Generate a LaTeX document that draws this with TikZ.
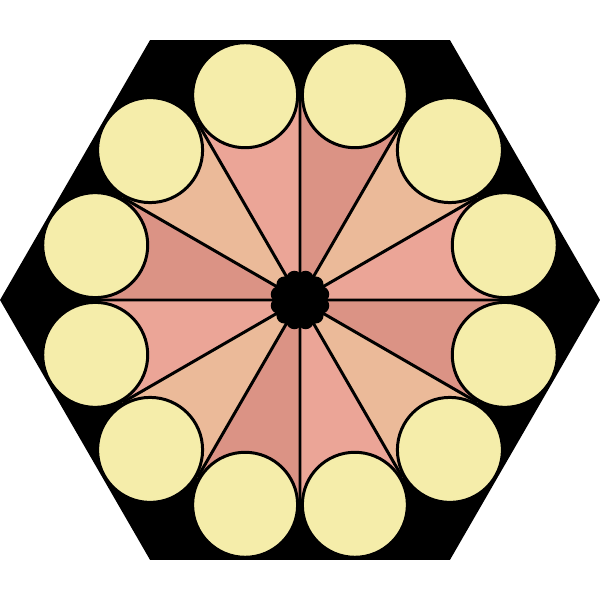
\documentclass[tikz,border=0pt]{standalone}
\usepackage{xcolor}
\usepackage{tikz}
\definecolor{discyellow}{HTML}{F5EDAA}
\definecolor{wedgepink}{HTML}{EBA597}
\definecolor{wedgetan}{HTML}{EBBA99}
\definecolor{wedgedark}{HTML}{DB9385}

\begin{document}
\begin{tikzpicture}[scale=0.02]
        % Rosette of 12 discs inside a black hexagon
        \def\hexradius{300}
        \def\ringradius{212}
        \def\discradius{52.5}
        \def\spokelen{205}
        \useasboundingbox (-300,-300) rectangle (300,300);
        % Hexagon frame
        \fill[black] (0:\hexradius) -- (60:\hexradius) -- (120:\hexradius) -- (180:\hexradius) -- (240:\hexradius) -- (300:\hexradius) -- cycle;
        % Wedges (pink, tan, dark, repeating)
        \fill[wedgepink] (0,0) -- (0:\spokelen) -- (30:\spokelen) -- cycle;
        \fill[wedgetan] (0,0) -- (30:\spokelen) -- (60:\spokelen) -- cycle;
        \fill[wedgedark] (0,0) -- (60:\spokelen) -- (90:\spokelen) -- cycle;
        \fill[wedgepink] (0,0) -- (90:\spokelen) -- (120:\spokelen) -- cycle;
        \fill[wedgetan] (0,0) -- (120:\spokelen) -- (150:\spokelen) -- cycle;
        \fill[wedgedark] (0,0) -- (150:\spokelen) -- (180:\spokelen) -- cycle;
        \fill[wedgepink] (0,0) -- (180:\spokelen) -- (210:\spokelen) -- cycle;
        \fill[wedgetan] (0,0) -- (210:\spokelen) -- (240:\spokelen) -- cycle;
        \fill[wedgedark] (0,0) -- (240:\spokelen) -- (270:\spokelen) -- cycle;
        \fill[wedgepink] (0,0) -- (270:\spokelen) -- (300:\spokelen) -- cycle;
        \fill[wedgetan] (0,0) -- (300:\spokelen) -- (330:\spokelen) -- cycle;
        \fill[wedgedark] (0,0) -- (330:\spokelen) -- (360:\spokelen) -- cycle;
        % Spokes
        \draw[line width=1.7pt] (0,0) -- (0:\spokelen) (0,0) -- (30:\spokelen) (0,0) -- (60:\spokelen)
                (0,0) -- (90:\spokelen) (0,0) -- (120:\spokelen) (0,0) -- (150:\spokelen)
                (0,0) -- (180:\spokelen) (0,0) -- (210:\spokelen) (0,0) -- (240:\spokelen)
                (0,0) -- (270:\spokelen) (0,0) -- (300:\spokelen) (0,0) -- (330:\spokelen);
        % Discs
        \filldraw[fill=discyellow, line width=1.7pt]
                (15:\ringradius) circle (\discradius) (45:\ringradius) circle (\discradius)
                (75:\ringradius) circle (\discradius) (105:\ringradius) circle (\discradius)
                (135:\ringradius) circle (\discradius) (165:\ringradius) circle (\discradius)
                (195:\ringradius) circle (\discradius) (225:\ringradius) circle (\discradius)
                (255:\ringradius) circle (\discradius) (285:\ringradius) circle (\discradius)
                (315:\ringradius) circle (\discradius) (345:\ringradius) circle (\discradius);
        % Scalloped hub
        \fill[black] (0,0) circle (24)
                (15:22) circle (8) (45:22) circle (8) (75:22) circle (8) (105:22) circle (8)
                (135:22) circle (8) (165:22) circle (8) (195:22) circle (8) (225:22) circle (8)
                (255:22) circle (8) (285:22) circle (8) (315:22) circle (8) (345:22) circle (8);
    \end{tikzpicture}
\end{document}
